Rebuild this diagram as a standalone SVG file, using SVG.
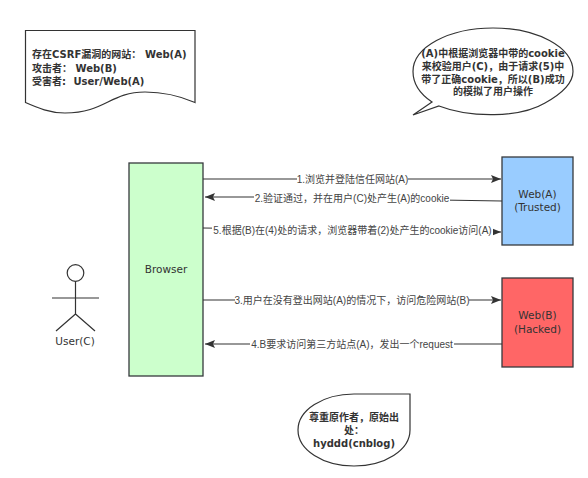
<svg xmlns="http://www.w3.org/2000/svg" width="588" height="478" viewBox="0 0 588 478">
<style>
text{font-family:"DejaVu Sans","Noto Sans CJK SC",sans-serif;fill:#333;}
.b{font-weight:bold;font-size:10px;}
.c{font-size:10px;text-anchor:middle;font-family:"Liberation Sans","Noto Sans CJK SC",sans-serif;fill:#444;}
.n{font-size:10.5px;text-anchor:middle;}
.s{fill:#fff;stroke:#333;stroke-width:1.2;}
.box{stroke:#36393d;stroke-width:1.3;}
.l{fill:none;stroke:#333;stroke-width:1.2;marker-end:url(#a);}
.p{fill:none;stroke:#333;stroke-width:1.2;}
.m{fill:#fff;}
</style>
<defs><marker id="a" viewBox="0 0 10 8" refX="10" refY="4" markerWidth="10" markerHeight="8" markerUnits="userSpaceOnUse" orient="auto"><path d="M0 0L10 4L0 8L2 4Z" fill="#333"/></marker></defs>
<g id="note">
<path class="s" d="M25.5 30.5H195V102.500C180 96 165 92 145 92C110 92 105 113 65 113C50 113 38 108 25.500 102.500Z"/>
<text class="b" x="32" y="58">存在CSRF漏洞的网站：<tspan x="145">Web(A)</tspan></text>
<text class="b" x="32" y="71.500">攻击者：<tspan x="75.500">Web(B)</tspan></text>
<text class="b" x="32" y="85">受害者: <tspan x="73.500">User/Web(A)</tspan></text>
</g>
<g id="callout">
<path class="s" d="M439 106C470 118 520 118 545 103C563 93 573 83 573 71.500C573 47 537 28 493 28C449 28 413 47 413 71.500C413 84 420 94 432 102L413 115Z"/>
<text class="b" x="493" y="57" text-anchor="middle">(A)中根据浏览器中带的cookie</text>
<text class="b" x="493" y="70" text-anchor="middle">来校验用户(C)，由于请求(5)中</text>
<text class="b" x="493" y="83" text-anchor="middle">带了正确cookie，所以(B)成功</text>
<text class="b" x="493" y="95" text-anchor="middle">的模拟了用户操作</text>
</g>
<g id="user">
<circle class="p" cx="75.500" cy="273" r="8.300"/>
<path class="p" d="M75.500 281.300V314M52 298H99M75.500 314L56 331M75.500 314L95 331"/>
<text class="n" x="75" y="345">User(C)</text>
</g>
<g id="browser">
<rect class="box" x="129" y="163" width="74" height="213" fill="#ccffcc"/>
<text class="n" x="166" y="273">Browser</text>
</g>
<g id="weba">
<rect class="box" x="502" y="157" width="71" height="88" fill="#99ccff"/>
<text class="n" x="537.500" y="198">Web(A)</text>
<text class="n" x="537.500" y="211">(Trusted)</text>
</g>
<g id="webb">
<rect class="box" x="502" y="278" width="71" height="89" fill="#ff6666"/>
<text class="n" x="537.500" y="319">Web(B)</text>
<text class="n" x="537.500" y="333">(Hacked)</text>
</g>
<g id="connectors">
<path class="l" d="M203 179H501"/>
<path class="l" d="M502 201L254 197H205"/>
<path class="l" d="M203 228L493 232H501"/>
<path class="l" d="M203 300H501"/>
<path class="l" d="M502 344H205"/>
<rect class="m" x="297" y="173" width="111" height="12"/>
<text class="c" x="352.500" y="183">1.浏览并登陆信任网站(A)</text>
<rect class="m" x="254" y="192" width="196" height="12"/>
<text class="c" x="352" y="202">2.验证通过，并在用户(C)处产生(A)的cookie</text>
<rect class="m" x="212" y="224" width="281" height="12"/>
<text class="c" x="352.500" y="234">5.根据(B)在(4)处的请求，浏览器带着(2)处产生的cookie访问(A)</text>
<rect class="m" x="235" y="294" width="234" height="12"/>
<text class="c" x="352" y="304">3.用户在没有登出网站(A)的情况下，访问危险网站(B)</text>
<rect class="m" x="250" y="338" width="204" height="12"/>
<text class="c" x="352" y="348">4.B要求访问第三方站点(A)，发出一个request</text>
</g>
<g id="credit">
<path class="s" d="M410 394V430C410 450 385 466 354 466C323 466 298 450 298 430C298 410 323 394 354 394Z"/>
<text class="b" x="354" y="421" text-anchor="middle">尊重原作者，原始出</text>
<text class="b" x="354" y="434" text-anchor="middle">处：</text>
<text class="b" x="354" y="447" text-anchor="middle">hyddd(cnblog)</text>
</g>
</svg>
